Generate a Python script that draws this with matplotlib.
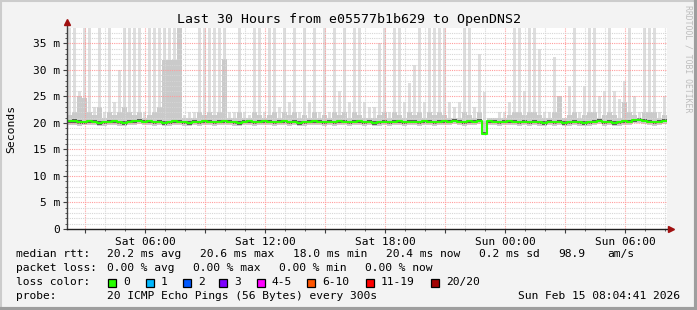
import matplotlib
matplotlib.use("Agg")
import matplotlib.pyplot as plt
import matplotlib.dates as mdates
from matplotlib.patches import Rectangle
from matplotlib.lines import Line2D
from matplotlib.ticker import MultipleLocator, FuncFormatter
from datetime import datetime, timedelta

# 15 minute columns over the last 30 hours (values in ms)
end_time = datetime(2026, 2, 15, 8, 4, 41)
hours = 30
step_min = 15

smoke_max = [38, 38, 26, 38, 38, 23, 38, 22, 38, 24,
             30, 38, 38, 38, 38, 22, 38, 38, 38, 38,
             38, 38, 38, 21.5, 22, 22, 38, 38, 38, 38,
             38, 38, 22, 22, 38, 22, 21.5, 38, 38, 22,
             38, 38, 23, 38, 24, 38, 22, 38, 24, 38,
             22, 38, 22, 38, 26, 38, 24, 38, 38, 24,
             23, 23, 35, 38, 22, 38, 38, 24, 27.5, 31,
             38, 24, 38, 38, 38, 38, 24, 23, 24, 38,
             38, 23, 33, 25.8, 21, 21, 22, 22, 24, 38,
             38, 26, 38, 38, 34, 22, 22, 32.4, 25, 21,
             27, 38, 22, 27, 38, 38, 25, 26, 38, 26,
             24.5, 28, 38, 25, 22, 38, 38, 38, 22, 25]

smoke_mid = [21.5, 22, 25, 24.7, 22, 21.5, 23, 21, 22, 21.5,
             22, 23, 22, 21.5, 22, 21, 21.5, 22, 23, 31.8,
             31.8, 31.8, 38, 21, 21, 21, 22, 21.5, 22, 21.5,
             22, 32, 21, 21, 22, 21, 21, 22, 21.5, 21,
             21.5, 22, 21, 22, 21.5, 22, 21, 21.5, 21, 22,
             21, 21.5, 21, 22, 21.5, 22, 21, 22, 21.5, 21,
             21, 21, 21.5, 22, 21, 22, 21.5, 21, 22, 21.5,
             22, 21, 22, 21.5, 22, 21.5, 21, 21, 21, 22,
             21.5, 21, 22, 20.4, 21, 21, 21, 21, 21.5, 22,
             22, 21.5, 22, 22, 21.5, 21, 21, 22, 25, 21,
             21.5, 22, 21, 21.5, 22, 22, 21, 21.5, 22, 21.5,
             21, 24, 22, 21.5, 21, 22, 22, 22, 21, 21.5]

smoke_min = [19.6, 19.7, 19.5, 19.6, 19.7, 19.6, 19.4, 19.5, 19.6, 19.7,
             19.5, 19.4, 19.6, 19.7, 19.8, 19.6, 19.7, 19.5, 19.6, 19.4,
             19.5, 19.7, 19.6, 19.5, 19.4, 19.6, 19.5, 19.7, 19.6, 19.5,
             19.6, 19.7, 19.6, 19.5, 19.4, 19.6, 19.7, 19.5, 19.6, 19.7,
             19.6, 19.5, 19.6, 19.7, 19.5, 19.6, 19.4, 19.5, 19.6, 19.7,
             19.6, 19.5, 19.6, 19.5, 19.7, 19.6, 19.5, 19.6, 19.7, 19.5,
             19.6, 19.4, 19.5, 19.6, 19.5, 19.6, 19.7, 19.5, 19.6, 19.6,
             19.5, 19.7, 19.6, 19.5, 19.6, 19.7, 19.6, 19.8, 19.6, 19.5,
             19.7, 19.6, 19.8, 17.9, 19.7, 19.6, 19.5, 19.6, 19.7, 19.6,
             19.5, 19.6, 19.5, 19.6, 19.5, 19.4, 19.6, 19.5, 19.6, 19.4,
             19.5, 19.6, 19.5, 19.4, 19.5, 19.6, 19.8, 19.5, 19.6, 19.4,
             19.5, 19.7, 19.6, 19.9, 20.0, 19.8, 19.6, 19.5, 19.6, 19.8]

median = [20.3, 20.4, 20.2, 20.1, 20.3, 20.2, 20.0, 20.1, 20.2, 20.3,
          20.1, 20.0, 20.2, 20.3, 20.4, 20.2, 20.3, 20.1, 20.2, 20.0,
          20.1, 20.3, 20.2, 20.1, 20.0, 20.2, 20.1, 20.3, 20.2, 20.1,
          20.2, 20.3, 20.2, 20.1, 20.0, 20.2, 20.3, 20.1, 20.2, 20.3,
          20.2, 20.1, 20.2, 20.3, 20.1, 20.2, 20.0, 20.1, 20.2, 20.3,
          20.2, 20.1, 20.2, 20.1, 20.3, 20.2, 20.1, 20.2, 20.3, 20.1,
          20.2, 20.0, 20.1, 20.2, 20.1, 20.2, 20.3, 20.1, 20.2, 20.2,
          20.1, 20.3, 20.2, 20.1, 20.2, 20.3, 20.2, 20.4, 20.2, 20.1,
          20.3, 20.2, 20.4, 18.0, 20.3, 20.2, 20.1, 20.2, 20.3, 20.2,
          20.1, 20.2, 20.1, 20.2, 20.1, 20.0, 20.2, 20.1, 20.2, 20.0,
          20.1, 20.2, 20.1, 20.0, 20.1, 20.2, 20.4, 20.1, 20.2, 20.0,
          20.1, 20.3, 20.2, 20.5, 20.6, 20.4, 20.2, 20.1, 20.2, 20.4]

stats_rtt = ["20.2 ms avg", "20.6 ms max", "18.0 ms min", "20.4 ms now", "0.2 ms sd", "98.9", "am/s"]
stats_loss = ["0.00 % avg", "0.00 % max", "0.00 % min", "0.00 % now"]
loss_labels = ["0", "1", "2", "3", "4-5", "6-10", "11-19", "20/20"]
loss_colors = ["#26ff00", "#00b8ff", "#0059ff", "#7e00ff", "#ff00ff", "#ff5500", "#ff0000", "#a00000"]

W, H = 697, 310
plt.rcParams['font.family'] = "DejaVu Sans Mono"

fig = plt.figure(figsize=(W / 100, H / 100), dpi=100, facecolor="#f3f3f3")

def px(x, y):
    return x / W, 1 - y / H

ax = fig.add_axes([67 / W, (H - 229) / H, 600 / W, 201 / H])
ax.set_facecolor("white")

start_time = end_time - timedelta(hours=hours)
times = [start_time + timedelta(minutes=step_min * i) for i in range(len(median))]
xs = mdates.date2num(times)
w = step_min / 1440.0

top = 37.9
# outer smoke: narrow spikes, inner smoke and core: continuous
ax.bar(xs + 0.15 * w, [min(v, top) - b for v, b in zip(smoke_max, smoke_min)], bottom=smoke_min,
       width=0.6 * w, align="edge", color="#dedede", linewidth=0, zorder=1)
ax.bar(xs, [min(v, top) - b for v, b in zip(smoke_mid, smoke_min)], bottom=smoke_min,
       width=w, align="edge", color="#cacaca", linewidth=0, zorder=1.1)
core_lo = [min(m - 0.3, b + 0.3) for m, b in zip(median, smoke_min)]
ax.bar(xs, [m + 0.3 - c for m, c in zip(median, core_lo)], bottom=core_lo,
       width=w, align="edge", color="#5a5a5a", linewidth=0, zorder=1.2)
ax.step(list(xs) + [xs[-1] + w], median + [median[-1]], where="post",
        color=loss_colors[0], lw=1.5, zorder=3)

ax.set_xlim(mdates.date2num(start_time), mdates.date2num(end_time))
ax.set_ylim(0, top)

ax.yaxis.set_major_locator(MultipleLocator(5))
ax.yaxis.set_minor_locator(MultipleLocator(1))
ax.yaxis.set_major_formatter(FuncFormatter(lambda v, p: "0" if v == 0 else f"{int(v)} m"))
ax.xaxis.set_major_locator(mdates.HourLocator(byhour=range(0, 24, 3)))
ax.xaxis.set_minor_locator(mdates.HourLocator())
ax.xaxis.set_major_formatter(FuncFormatter(
    lambda v, p: mdates.num2date(v).strftime("%a %H:%M") if mdates.num2date(v).hour % 6 == 0 else ""))

ax.grid(which="minor", color="#d6d6d6", linestyle=(0, (1, 1)), linewidth=0.8)
ax.grid(which="major", color="#ff9c9c", linestyle=(0, (1, 1)), linewidth=0.8)
for gl in ax.get_xgridlines() + ax.get_ygridlines():
    gl.set_zorder(2)

ax.tick_params(which="major", length=3, width=0.8, color="#404040", labelsize=8, pad=2)
ax.tick_params(which="minor", length=1.5, width=0.6, color="#404040")
ax.tick_params(axis="x", which="major", pad=3)
for s in ["top", "right", "left", "bottom"]:
    ax.spines[s].set_visible(False)

ax.plot([0, 0], [0, 1.03], transform=ax.transAxes, color="#404040", lw=1, clip_on=False, zorder=4)
ax.plot([0, 1.006], [0, 0], transform=ax.transAxes, color="#202020", lw=1, clip_on=False, zorder=4)
ax.plot([0], [1.03], marker="^", ms=5, color="#a01010", transform=ax.transAxes, clip_on=False, zorder=5)
ax.plot([1.006], [0], marker=">", ms=5, color="#a01010", transform=ax.transAxes, clip_on=False, zorder=5)

ax.set_ylabel("Seconds", fontsize=8.2, labelpad=12)

fig.text(*px(349, 19), "Last 30 Hours from e05577b1b629 to OpenDNS2", ha="center", va="center", fontsize=9.5)
fig.text(*px(688, 5), "RRDTOOL / TOBI OETIKER", rotation=-90, ha="center", va="top",
         fontsize=5.9, color="#bdbdbd")

fs = 8.1
fig.text(*px(16, 254), "median rtt:", va="center", fontsize=fs)
for s, x in zip(stats_rtt, [107, 200, 293, 386, 479, 558, 607]):
    fig.text(*px(x, 254), s, va="center", fontsize=fs)
fig.text(*px(16, 268), "packet loss:", va="center", fontsize=fs)
for s, x in zip(stats_loss, [107, 193, 279, 365]):
    fig.text(*px(x, 268), s, va="center", fontsize=fs)
fig.text(*px(16, 282), "loss color:", va="center", fontsize=fs)
for lab, col, x in zip(loss_labels, loss_colors, [108, 146, 183, 219, 257, 307, 366, 431]):
    fig.add_artist(Rectangle(px(x, 286.5), 8 / W, 8 / H, facecolor=col, edgecolor="black",
                             lw=0.9, transform=fig.transFigure))
    fig.text(*px(x + 15, 282), lab, va="center", fontsize=fs)
fig.text(*px(16, 296), "probe:", va="center", fontsize=fs)
fig.text(*px(107, 296), "20 ICMP Echo Pings (56 Bytes) every 300s", va="center", fontsize=fs)
fig.text(*px(680, 296), end_time.strftime("%a %b %d %H:%M:%S %Y"), ha="right", va="center", fontsize=fs)

fig.add_artist(Line2D([0, 1], [1 - 0.5 / H, 1 - 0.5 / H], transform=fig.transFigure, color="#cccccc", lw=1.5))
fig.add_artist(Line2D([0.5 / W, 0.5 / W], [0, 1], transform=fig.transFigure, color="#cccccc", lw=1.5))
fig.add_artist(Line2D([0, 1], [1.5 / H, 1.5 / H], transform=fig.transFigure, color="#9e9e9e", lw=3))
fig.add_artist(Line2D([1 - 1.5 / W, 1 - 1.5 / W], [0, 1], transform=fig.transFigure, color="#9e9e9e", lw=3))

fig.savefig("out.png", dpi=100, facecolor=fig.get_facecolor())
